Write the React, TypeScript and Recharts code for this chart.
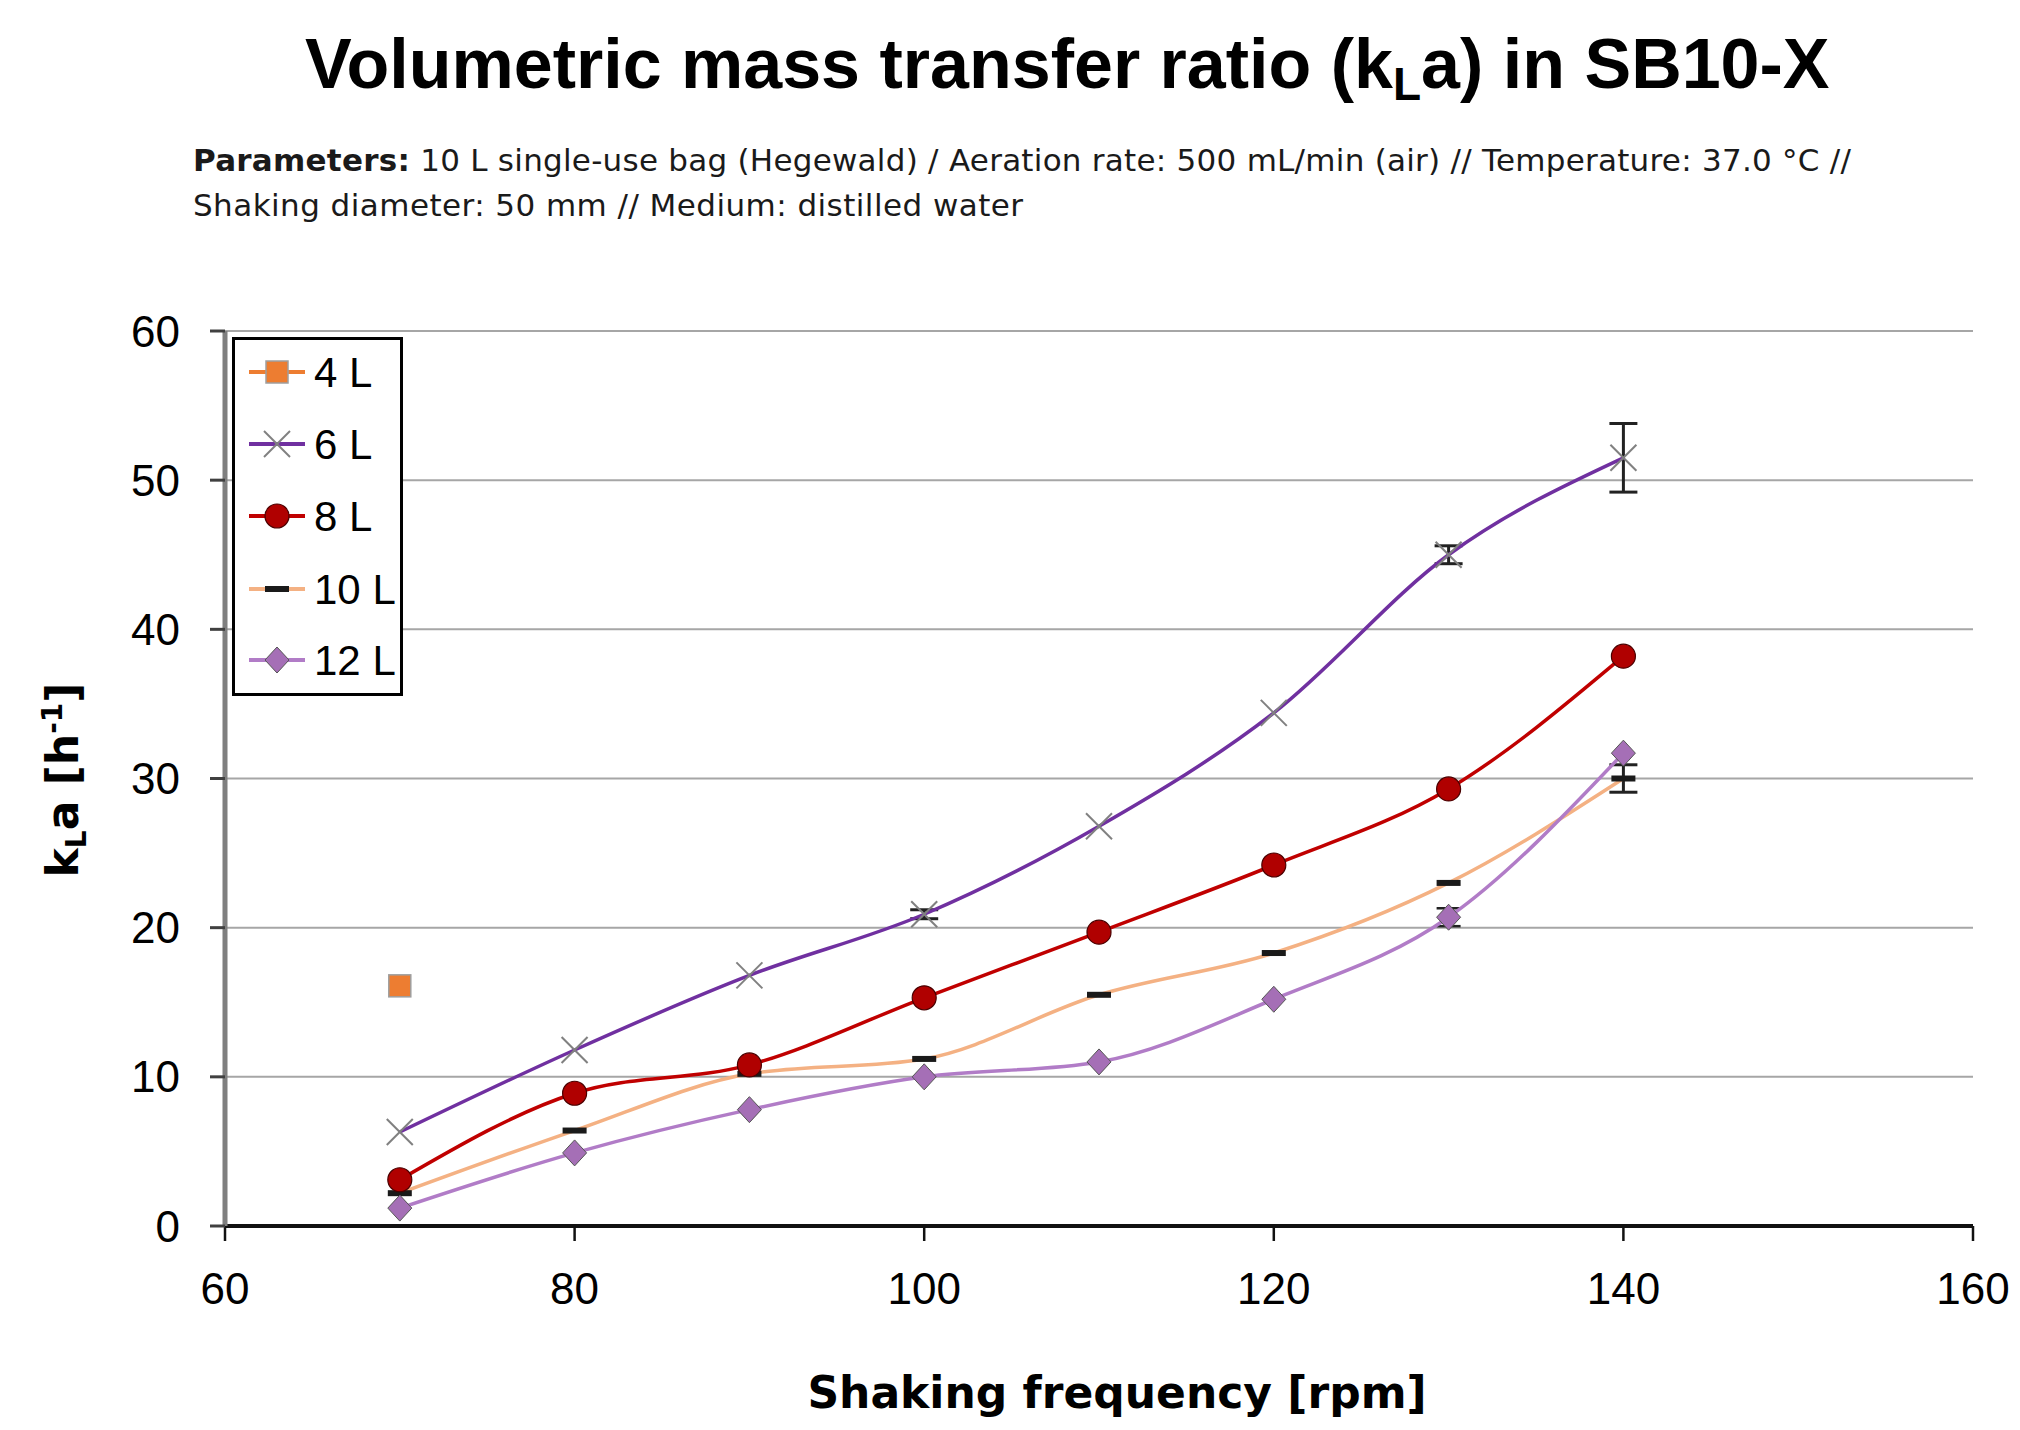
import React from 'react';
import { LineChart, Line, XAxis, YAxis, CartesianGrid, Legend, ErrorBar } from 'recharts';

const frequencies = [70, 80, 90, 100, 110, 120, 130, 140];
const kla4L = [16.1, null, null, null, null, null, null, null];
const kla6L = [6.3, 11.8, 16.8, 20.9, 26.8, 34.4, 45.0, 51.5];
const kla8L = [3.1, 8.9, 10.8, 15.3, 19.7, 24.2, 29.3, 38.2];
const kla10L = [2.2, 6.4, 10.2, 11.2, 15.5, 18.3, 23.0, 30.0];
const kla12L = [1.2, 4.9, 7.8, 10.0, 11.0, 15.2, 20.7, 31.7];
const err6L = [null, null, null, 0.3, null, null, 0.6, 2.3];
const err10L = [null, null, null, null, null, null, null, 0.92];
const err12L = [null, null, null, null, null, null, 0.6, null];
const seriesNames = ['4 L', '6 L', '8 L', '10 L', '12 L'];
const xTicks = [60, 80, 100, 120, 140, 160];
const yTicks = [0, 10, 20, 30, 40, 50, 60];

const data = frequencies.map((f, i) => ({
  f,
  v4: kla4L[i],
  v6: kla6L[i],
  v8: kla8L[i],
  v10: kla10L[i],
  v12: kla12L[i],
  e6: err6L[i],
  e10: err10L[i],
  e12: err12L[i],
}));

const lineColors = ['#ED7D31', '#7030A0', '#C00000', '#F4B183', '#B17CC7'];

type MarkerProps = { cx?: number; cy?: number; kind: number };

function Marker({ cx, cy, kind }: MarkerProps) {
  if (cx == null || cy == null || isNaN(cx) || isNaN(cy)) return null;
  if (kind === 0) {
    return <rect x={cx - 11} y={cy - 11} width={22} height={22} fill="#ED7D31" stroke="#9E9E9E" strokeWidth={1.5} />;
  }
  if (kind === 1) {
    const s = 13;
    return (
      <g stroke="#808080" strokeWidth={2}>
        <line x1={cx - s} y1={cy - s} x2={cx + s} y2={cy + s} />
        <line x1={cx - s} y1={cy + s} x2={cx + s} y2={cy - s} />
      </g>
    );
  }
  if (kind === 2) {
    return <circle cx={cx} cy={cy} r={12} fill="#B00000" stroke="#4A0000" strokeWidth={1.2} />;
  }
  if (kind === 3) {
    return <rect x={cx - 12} y={cy - 3} width={24} height={6} fill="#1A1A1A" />;
  }
  return (
    <polygon
      points={`${cx},${cy - 13} ${cx + 12},${cy} ${cx},${cy + 13} ${cx - 12},${cy}`}
      fill="#A56FB6"
      stroke="#555555"
      strokeWidth={1}
    />
  );
}

const makeDot = (kind: number) => (props: any) => (
  <Marker key={`m${kind}-${props.index}`} cx={props.cx} cy={props.cy} kind={kind} />
);

const rowCenters = [35, 107, 179, 252, 323];

function LegendBox() {
  return (
    <svg width={171} height={359} style={{ display: 'block' }}>
      <rect x={1.5} y={1.5} width={168} height={356} fill="#FFFFFF" stroke="#000000" strokeWidth={3} />
      {seriesNames.map((name, i) => (
        <g key={name}>
          <line x1={17} x2={73} y1={rowCenters[i]} y2={rowCenters[i]} stroke={lineColors[i]} strokeWidth={4} />
          <Marker cx={45} cy={rowCenters[i]} kind={i} />
          <text
            x={82}
            y={rowCenters[i]}
            dy="0.36em"
            fontFamily="'Liberation Sans', Arial, sans-serif"
            fontSize={42}
            fill="#000000"
          >
            {name}
          </text>
        </g>
      ))}
    </svg>
  );
}

const tickFont = { fontFamily: "'Liberation Sans', Arial, sans-serif", fontSize: 44, fill: '#000000' };

export default function App() {
  return (
    <div style={{ position: 'absolute', left: 0, top: 0, width: 2020, height: 1430, background: '#FFFFFF' }}>
      <LineChart
        width={2020}
        height={1430}
        data={data}
        margin={{ top: 331, right: 47, bottom: 104, left: 125 }}
      >
        <CartesianGrid vertical={false} stroke="#A6A6A6" strokeWidth={2} />
        <XAxis
          dataKey="f"
          type="number"
          domain={[60, 160]}
          ticks={xTicks}
          interval={0}
          height={100}
          tick={tickFont}
          tickSize={15}
          tickMargin={32}
          axisLine={{ stroke: '#111111', strokeWidth: 4 }}
          tickLine={{ stroke: '#111111', strokeWidth: 2.5 }}
        />
        <YAxis
          type="number"
          domain={[0, 60]}
          ticks={yTicks}
          interval={0}
          width={100}
          tick={tickFont}
          tickSize={15}
          tickMargin={30}
          axisLine={{ stroke: '#7F7F7F', strokeWidth: 5 }}
          tickLine={{ stroke: '#404040', strokeWidth: 3 }}
        />
        <Legend
          layout="vertical"
          align="center"
          verticalAlign="middle"
          wrapperStyle={{ position: 'absolute', left: 232, top: 337, width: 171, height: 359 }}
          content={() => <LegendBox />}
        />
        <Line
          type="monotone"
          dataKey="v4"
          name={seriesNames[0]}
          stroke={lineColors[0]}
          strokeWidth={3}
          dot={makeDot(0)}
          activeDot={false}
          isAnimationActive={false}
        />
        <Line
          type="monotone"
          dataKey="v10"
          name={seriesNames[3]}
          stroke={lineColors[3]}
          strokeWidth={3.5}
          dot={makeDot(3)}
          activeDot={false}
          isAnimationActive={false}
        >
          <ErrorBar dataKey="e10" width={14} stroke="#222222" strokeWidth={3} direction="y" isAnimationActive={false} />
        </Line>
        <Line
          type="monotone"
          dataKey="v12"
          name={seriesNames[4]}
          stroke={lineColors[4]}
          strokeWidth={3.5}
          dot={makeDot(4)}
          activeDot={false}
          isAnimationActive={false}
        >
          <ErrorBar dataKey="e12" width={12} stroke="#222222" strokeWidth={2.5} direction="y" isAnimationActive={false} />
        </Line>
        <Line
          type="monotone"
          dataKey="v8"
          name={seriesNames[2]}
          stroke={lineColors[2]}
          strokeWidth={3.5}
          dot={makeDot(2)}
          activeDot={false}
          isAnimationActive={false}
        />
        <Line
          type="monotone"
          dataKey="v6"
          name={seriesNames[1]}
          stroke={lineColors[1]}
          strokeWidth={3.5}
          dot={makeDot(1)}
          activeDot={false}
          isAnimationActive={false}
        >
          <ErrorBar dataKey="e6" width={14} stroke="#222222" strokeWidth={3} direction="y" isAnimationActive={false} />
        </Line>
      </LineChart>
      <svg
        width={2020}
        height={1430}
        style={{ position: 'absolute', left: 0, top: 0, pointerEvents: 'none' }}
      >
        <text x={305} y={88} fontFamily="'Liberation Sans', Arial, sans-serif" fontWeight="bold" fontSize={70} fill="#000000">
          Volumetric mass transfer ratio (k
          <tspan fontSize={46} dy={12}>L</tspan>
          <tspan dy={-12}>a) in SB10-X</tspan>
        </text>
        <text x={193} y={171} fontFamily="'DejaVu Sans', sans-serif" fontSize={31} fill="#1A1A1A" textLength={1658} lengthAdjust="spacing">
          <tspan fontWeight="bold">Parameters:</tspan>
          <tspan> 10 L single-use bag (Hegewald) / Aeration rate: 500 mL/min (air) // Temperature: 37.0 °C //</tspan>
        </text>
        <text x={193} y={216} fontFamily="'DejaVu Sans', sans-serif" fontSize={31} fill="#1A1A1A" textLength={830} lengthAdjust="spacing">
          Shaking diameter: 50 mm // Medium: distilled water
        </text>
        <text x={1117} y={1408} textAnchor="middle" fontFamily="'DejaVu Sans', sans-serif" fontWeight="bold" fontSize={44} fill="#000000">
          Shaking frequency [rpm]
        </text>
        <text
          transform="translate(78 780) rotate(-90)"
          x={0}
          y={0}
          textAnchor="middle"
          fontFamily="'DejaVu Sans', sans-serif"
          fontWeight="bold"
          fontSize={44}
          fill="#000000"
        >
          k<tspan fontSize={28} dy={8}>L</tspan>
          <tspan dy={-8}>a [h</tspan>
          <tspan fontSize={28} dy={-16}>-1</tspan>
          <tspan dy={16}>]</tspan>
        </text>
      </svg>
    </div>
  );
}
